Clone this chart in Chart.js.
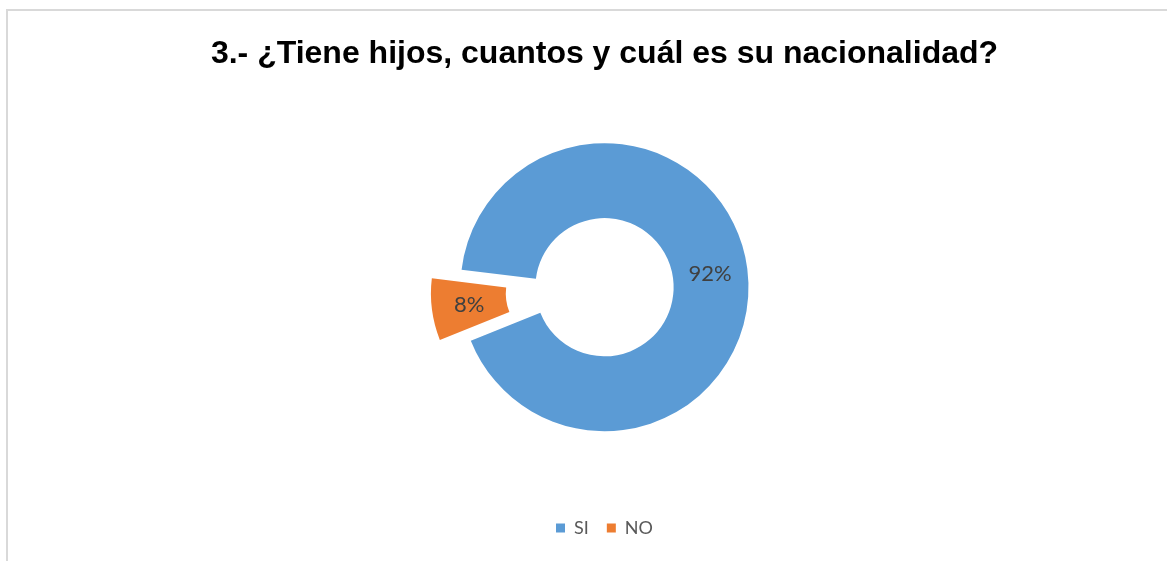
<!DOCTYPE html>
<html lang="es">
<head>
<meta charset="utf-8">
<title>¿Tiene hijos?</title>
<script src="https://cdn.jsdelivr.net/npm/chart.js@4/dist/chart.umd.min.js"></script>
<style>
    html, body { margin: 0; padding: 0; background: #fff; overflow: hidden; }
    #frame {
        position: absolute; left: 6px; top: 9px;
        width: 1200px; height: 600px;
        border-left: 2px solid #d9d9d9; border-top: 2px solid #d9d9d9;
    }
    #chart { position: absolute; left: 0; top: 0; }
</style>
</head>
<body>
<div id="frame"></div>
<canvas id="chart" width="1167" height="561"></canvas>
<script>
// ------------------------------------------------------------
//  Datos
// ------------------------------------------------------------
const TITULO = '3.- ¿Tiene hijos, cuantos y cuál es su nacionalidad?';
const CATEGORIAS = ['SI', 'NO'];
const VALORES = [92, 8];
const COLORES = ['#5b9bd5', '#ed7d31'];

// rebanada separada (estilo Excel): desplazamiento y reducción del anillo
const SEPARACION = [0, 49];
const REDUCCION = [0, 19];

// Excel-style explosion: the slice moves out along its mid angle
const explodePlugin = {
    id: 'explode',
    afterDatasetUpdate(chart, args) {
        args.meta.data.forEach((arc, i) => {
            const d = SEPARACION[i];
            if (!d) return;
            const mid = (arc.startAngle + arc.endAngle) / 2;
            arc.x += Math.cos(mid) * d;
            arc.y += Math.sin(mid) * d;
            arc.outerRadius -= REDUCCION[i];
            arc.innerRadius -= REDUCCION[i];
        });
    },
};

// etiquetas de porcentaje en el centro de cada rebanada
const labelsPlugin = {
    id: 'sliceLabels',
    afterDatasetsDraw(chart) {
        const { ctx } = chart;
        const meta = chart.getDatasetMeta(0);
        const total = VALORES.reduce((a, b) => a + b, 0);
        ctx.save();
        ctx.font = '22px Lato, "Open Sans", sans-serif';
        ctx.fillStyle = '#404040';
        ctx.textAlign = 'center';
        ctx.textBaseline = 'middle';
        meta.data.forEach((arc, i) => {
            const { x, y } = arc.tooltipPosition();
            ctx.fillText(Math.round(VALORES[i] / total * 100) + '%', x, y);
        });
        ctx.restore();
    },
};

new Chart(document.getElementById('chart'), {
    type: 'doughnut',
    data: {
        labels: CATEGORIAS,
        datasets: [{
            data: VALORES,
            backgroundColor: COLORES,
            borderWidth: 0,
        }],
    },
    options: {
        responsive: false,
        devicePixelRatio: 1,
        animation: false,
        events: [],
        radius: 144,
        cutout: '48%',
        rotation: -83,
        layout: { padding: { left: 42, right: 0, top: 0, bottom: 14 } },
        plugins: {
            title: {
                display: true,
                text: TITULO,
                color: '#000',
                font: { size: 32, weight: 'bold', family: '"Liberation Sans", Arial, sans-serif' },
                padding: { top: 35, bottom: 0 },
            },
            legend: {
                position: 'bottom',
                labels: {
                    color: '#595959',
                    font: { size: 18, family: 'Lato, "Open Sans", sans-serif' },
                    boxWidth: 9,
                    boxHeight: 9,
                    padding: 18,
                },
            },
            tooltip: { enabled: false },
        },
    },
    plugins: [explodePlugin, labelsPlugin],
});
</script>
</body>
</html>
